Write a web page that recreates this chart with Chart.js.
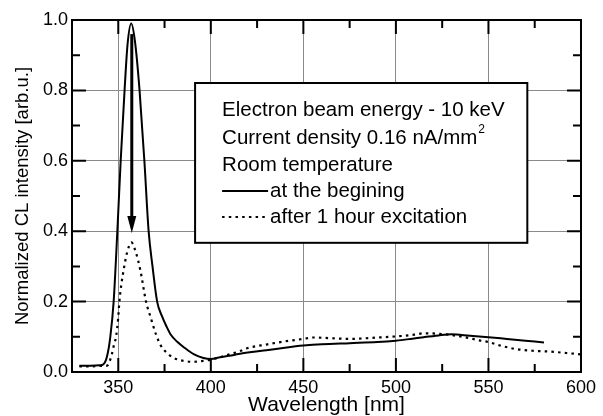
<!DOCTYPE html>
<html>
<head>
<meta charset="utf-8">
<script src="https://cdn.jsdelivr.net/npm/chart.js@4.4.1/dist/chart.umd.min.js"></script>
<style>
  html, body { margin: 0; padding: 0; background: #fff; }
  #wrap { width: 603px; height: 416px; }
</style>
</head>
<body>
<div id="wrap"><canvas id="chartCL" width="603" height="416"></canvas></div>
<script>
// ─── Datos ─────────────────────────────────────────────
const wlBegin = [329, 335, 340, 342, 343.9, 345.7, 347.5, 349.5, 351.3, 353.4, 355, 357, 359, 361.5, 364.1, 366.4, 368.5, 371, 373.5, 376, 378.5, 382, 386, 391, 396, 400,
  405, 410, 415, 421, 430, 440, 450, 460, 475, 490, 500, 508, 515, 523, 530, 540, 550, 560, 570, 580];
const atBeginning = [0.018, 0.018, 0.019, 0.022, 0.044, 0.10, 0.20, 0.40, 0.60, 0.80, 0.93, 0.99, 0.94, 0.80, 0.60, 0.40, 0.30, 0.20, 0.16, 0.13, 0.105, 0.085, 0.068, 0.05, 0.04, 0.037,
  0.042, 0.046, 0.051, 0.056, 0.062, 0.069, 0.075, 0.079, 0.082, 0.085, 0.089, 0.094, 0.099, 0.104, 0.107, 0.103, 0.099, 0.094, 0.089, 0.084];

const wlAfter = [329, 335, 340, 344, 345.3, 346.5, 347.8, 348.8, 349.9, 350.6, 351.7, 352.9, 354.7, 357.1, 359.6, 361.9, 365, 367.5, 370.5, 373, 375.5, 380, 385, 390, 395, 400,
  405, 410, 415, 420, 430, 440, 450, 455, 465, 475, 490, 500, 510, 515, 522, 530, 537, 545, 550, 558, 565, 575, 583, 592, 600];
const afterHour = [0.016, 0.016, 0.017, 0.018, 0.03, 0.05, 0.08, 0.10, 0.15, 0.20, 0.25, 0.29, 0.338, 0.368, 0.338, 0.29, 0.20, 0.155, 0.105, 0.075, 0.058, 0.04, 0.032, 0.029, 0.031, 0.035,
  0.042, 0.05, 0.058, 0.068, 0.078, 0.087, 0.094, 0.098, 0.096, 0.094, 0.098, 0.101, 0.106, 0.11, 0.109, 0.105, 0.099, 0.09, 0.085, 0.073, 0.065, 0.06, 0.058, 0.054, 0.05];

const xMajor = [350, 400, 450, 500, 550, 600];
const xMinor = [375, 425, 475, 525, 575];
const yMajor = [0, 0.2, 0.4, 0.6, 0.8, 1.0];
const yMinor = [0.1, 0.3, 0.5, 0.7, 0.9];

const legendLines = [
  'Electron beam energy - 10 keV',
  'Current density 0.16 nA/mm',
  'Room temperature',
];
const seriesNames = ['at the begining', 'after 1 hour excitation'];

const toPoints = (xs, ys) => xs.map((x, i) => ({ x, y: ys[i] }));
const FONT = "'Liberation Sans', Arial, sans-serif";

// ─── Plugin: marco, ticks hacia adentro, flecha y leyenda ─────
const framePlugin = {
  id: 'frame',
  afterDatasetsDraw(chart) {
    const { ctx, scales: { x, y } } = chart;
    ctx.save();

    // flecha (caída del pico)
    const ax = x.getPixelForValue(357.3);
    const ay0 = y.getPixelForValue(0.96);
    const ay1 = y.getPixelForValue(0.395);
    ctx.strokeStyle = '#000';
    ctx.fillStyle = '#000';
    ctx.lineWidth = 3;
    ctx.beginPath();
    ctx.moveTo(ax, ay0);
    ctx.lineTo(ax, ay1 - 14);
    ctx.stroke();
    ctx.beginPath();
    ctx.moveTo(ax - 4.5, ay1 - 17);
    ctx.lineTo(ax + 4.5, ay1 - 17);
    ctx.lineTo(ax, ay1);
    ctx.closePath();
    ctx.fill();

    // cuadro de leyenda
    const bx0 = x.getPixelForValue(391.5), bx1 = x.getPixelForValue(571);
    const by0 = y.getPixelForValue(0.821), by1 = y.getPixelForValue(0.367);
    ctx.fillStyle = '#fff';
    ctx.fillRect(bx0, by0, bx1 - bx0, by1 - by0);
    ctx.lineWidth = 2;
    ctx.strokeRect(bx0, by0, bx1 - bx0, by1 - by0);

    const tx = bx0 + 25;
    const rows = [by0 + 27, by0 + 55.5, by0 + 82, by0 + 108, by0 + 134];
    ctx.fillStyle = '#000';
    ctx.font = '20.5px ' + FONT;
    ctx.textBaseline = 'middle';
    ctx.textAlign = 'left';
    legendLines.forEach((t, i) => ctx.fillText(t, tx + 2, rows[i]));
    const w = ctx.measureText(legendLines[1]).width;
    ctx.font = '12px ' + FONT;
    ctx.fillText('2', tx + 2 + w + 1, rows[1] - 9);

    ctx.font = '20.5px ' + FONT;
    ctx.lineWidth = 2;
    ctx.beginPath();
    ctx.moveTo(tx + 2, rows[3]);
    ctx.lineTo(tx + 48, rows[3]);
    ctx.stroke();
    ctx.setLineDash([2.5, 4.2]);
    ctx.beginPath();
    ctx.moveTo(tx + 2, rows[4]);
    ctx.lineTo(tx + 46, rows[4]);
    ctx.stroke();
    ctx.setLineDash([]);
    ctx.fillText(seriesNames[0], tx + 50, rows[3]);
    ctx.fillText(seriesNames[1], tx + 50, rows[4]);
    ctx.restore();
  },
  afterDraw(chart) {
    const { ctx, chartArea: a, scales: { x, y } } = chart;
    ctx.save();
    ctx.strokeStyle = '#000';
    ctx.lineWidth = 2;
    const tick = (vals, len, horiz) => {
      vals.forEach((v) => {
        ctx.beginPath();
        if (horiz) {
          const px = x.getPixelForValue(v);
          ctx.moveTo(px, a.bottom); ctx.lineTo(px, a.bottom - len);
          ctx.moveTo(px, a.top); ctx.lineTo(px, a.top + len);
        } else {
          const py = y.getPixelForValue(v);
          ctx.moveTo(a.left, py); ctx.lineTo(a.left + len, py);
          ctx.moveTo(a.right, py); ctx.lineTo(a.right - len, py);
        }
        ctx.stroke();
      });
    };
    tick(xMajor, 14, true);
    tick(xMinor, 8, true);
    tick(yMajor, 14, false);
    tick(yMinor, 8, false);
    ctx.strokeRect(a.left, a.top, a.right - a.left, a.bottom - a.top);
    ctx.restore();
  },
};

new Chart(document.getElementById('chartCL'), {
  type: 'line',
  data: {
    datasets: [
      {
        label: seriesNames[0],
        data: toPoints(wlBegin, atBeginning),
        borderColor: '#000',
        borderWidth: 2,
        pointRadius: 0,
        cubicInterpolationMode: 'monotone',
      },
      {
        label: seriesNames[1],
        data: toPoints(wlAfter, afterHour),
        borderColor: '#000',
        borderWidth: 2.2,
        borderDash: [2.5, 4.2],
        pointRadius: 0,
        cubicInterpolationMode: 'monotone',
      },
    ],
  },
  options: {
    responsive: false,
    animation: false,
    devicePixelRatio: 1,
    layout: { padding: { top: 20, right: 22, left: 0, bottom: 0 } },
    plugins: { legend: { display: false }, tooltip: { enabled: false } },
    scales: {
      x: {
        type: 'linear',
        min: 325,
        max: 600,
        afterBuildTicks: (s) => { s.ticks = xMajor.map((v) => ({ value: v })); },
        afterFit: (s) => { s.height = 44; },
        grid: { color: '#8a8a8a', lineWidth: 1, drawTicks: false },
        border: { display: false },
        ticks: { color: '#000', padding: 5, font: { family: FONT, size: 18 }, maxRotation: 0 },
        title: { display: true, text: 'Wavelength [nm]', color: '#000', font: { family: FONT, size: 21, lineHeight: 1 }, padding: { top: 0, bottom: 0.5 } },
      },
      y: {
        min: 0,
        max: 1.0,
        afterBuildTicks: (s) => { s.ticks = yMajor.map((v) => ({ value: v })); },
        afterFit: (s) => { s.width = 72; },
        grid: { color: '#8a8a8a', lineWidth: 1, drawTicks: false },
        border: { display: false },
        ticks: { color: '#000', padding: 4, font: { family: FONT, size: 18 }, callback: (v) => v.toFixed(1) },
        title: { display: true, text: 'Normalized CL intensity [arb.u.]', color: '#000', font: { family: FONT, size: 18.5, lineHeight: 1 }, padding: { top: 14, bottom: 0 } },
      },
    },
  },
  plugins: [framePlugin],
});
</script>
</body>
</html>
